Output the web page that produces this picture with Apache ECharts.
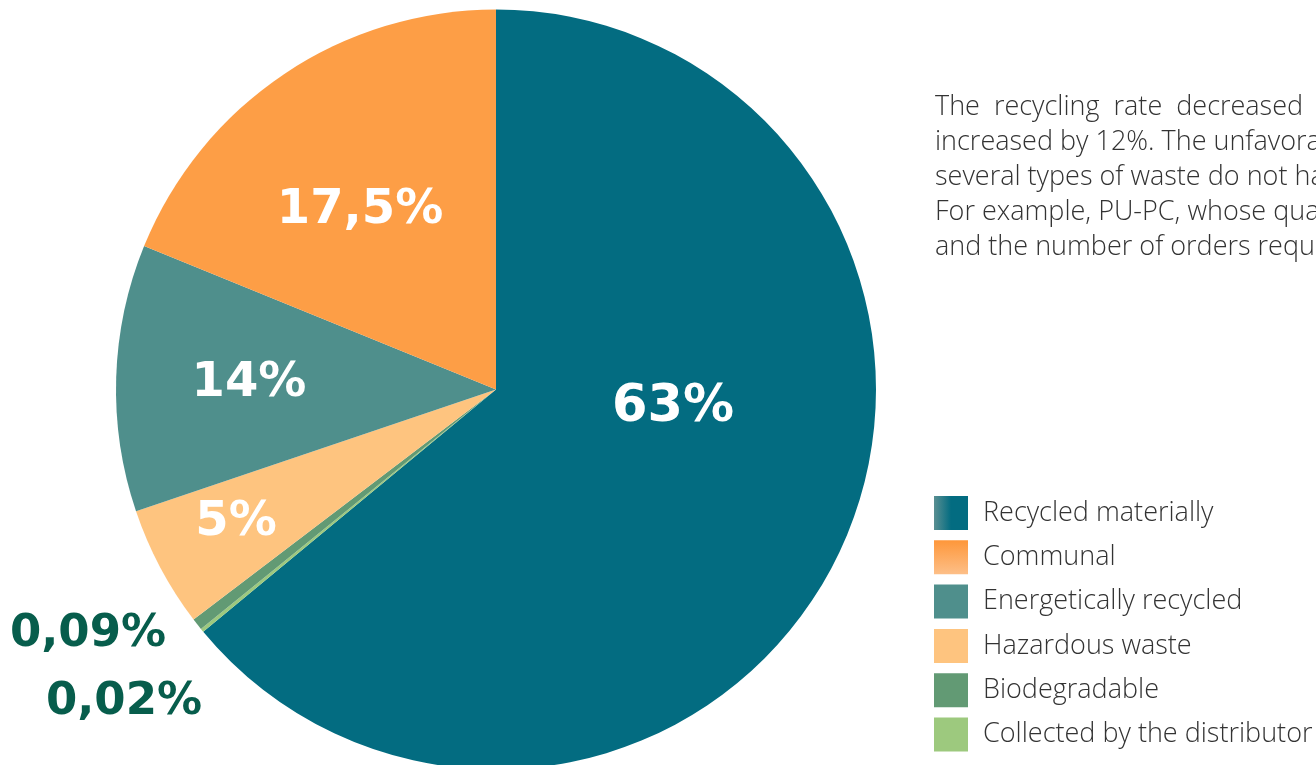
<!DOCTYPE html>
<html>
<head>
<meta charset="utf-8">
<script src="https://cdn.jsdelivr.net/npm/echarts@6/dist/echarts.min.js"></script>
<style>
html,body{margin:0;padding:0;background:#fff;}
#chart{width:1316px;height:765px;}
</style>
</head>
<body>
<div id="chart"></div>
<script>
// Slice names in drawing order (clockwise from 12 o'clock)
var categories = ['Recycled materially', 'Collected by the distributor', 'Biodegradable', 'Hazardous waste', 'Energetically recycled', 'Communal'];
var values = [64.0, 0.15, 0.5, 5.16, 11.35, 18.84];
// Printed labels
var labelTexts = ['63%', '0,02%', '0,09%', '5%', '14%', '17,5%'];
// Legend order
var legendOrder = ['Recycled materially', 'Communal', 'Energetically recycled', 'Hazardous waste', 'Biodegradable', 'Collected by the distributor'];
var paragraphLines = [
  'The  recycling  rate  decreased  by',
  'increased by 12%. The unfavorable',
  'several types of waste do not have',
  'For example, PU-PC, whose quantity',
  'and the number of orders required'
];

var colors = {
  'Recycled materially': '#036c81',
  'Communal': '#fd9e46',
  'Energetically recycled': '#4f8f8c',
  'Hazardous waste': '#fec47f',
  'Biodegradable': '#629a74',
  'Collected by the distributor': '#9dc97e'
};
var legendColors = {
  'Recycled materially': new echarts.graphic.LinearGradient(0, 0, 1, 0, [{offset: 0, color: '#5a8f92'}, {offset: 0.5, color: '#036c81'}, {offset: 1, color: '#036c81'}]),
  'Communal': new echarts.graphic.LinearGradient(0, 0, 0, 1, [{offset: 0, color: '#fe973a'}, {offset: 1, color: '#fdbf88'}])
};

var cx = 496, cy = 389.5, R = 380;
// label anchor placement (screen px) per slice
var labelPlaces = [[673, 408], [124, 702], [88, 634], [236, 523], [249, 384], [360, 211]];
var labelSizes = [51, 45, 45, 48, 48, 48];
var smallLabel = [false, true, true, false, false, false];

var chart = echarts.init(document.getElementById('chart'), null, {renderer: 'canvas'});

var pieData = categories.map(function (name, i) {
  return {
    name: name,
    value: values[i],
    itemStyle: {color: colors[name]},
    label: {
      formatter: labelTexts[i],
      color: smallLabel[i] ? '#075d4c' : '#ffffff',
      fontSize: labelSizes[i]
    }
  };
});

var textLines = paragraphLines.map(function (t, i) {
  return {
    type: 'text',
    left: 935,
    top: 94 + i * 35,
    silent: true,
    style: {
      text: t,
      fill: '#333333',
      font: '300 27px "Open Sans", sans-serif'
    }
  };
});

var option = {
  backgroundColor: '#ffffff',
  animation: false,
  legend: {
    orient: 'vertical',
    left: 929,
    top: 491,
    itemWidth: 34,
    itemHeight: 34,
    itemGap: 10.3,
    icon: 'rect',
    selectedMode: false,
    textStyle: {
      fontFamily: '"Open Sans", sans-serif',
      fontWeight: 300,
      fontSize: 27,
      color: '#333333',
      padding: [0, 0, 0, 10]
    },
    data: legendOrder.map(function (n) {
      return {name: n, itemStyle: {color: legendColors[n] || colors[n]}};
    })
  },
  graphic: textLines,
  series: [{
    type: 'pie',
    center: [cx, cy],
    radius: [0, R],
    startAngle: 90,
    clockwise: true,
    avoidLabelOverlap: false,
    silent: true,
    itemStyle: {borderWidth: 0},
    label: {
      show: true,
      position: 'inside',
      fontFamily: '"DejaVu Sans", sans-serif',
      fontWeight: 'bold'
    },
    labelLine: {show: false},
    labelLayout: function (params) {
      var p = labelPlaces[params.dataIndex];
      return {x: p[0], y: p[1], align: 'center', verticalAlign: 'middle'};
    },
    data: pieData
  }]
};
chart.setOption(option);
</script>
</body>
</html>
